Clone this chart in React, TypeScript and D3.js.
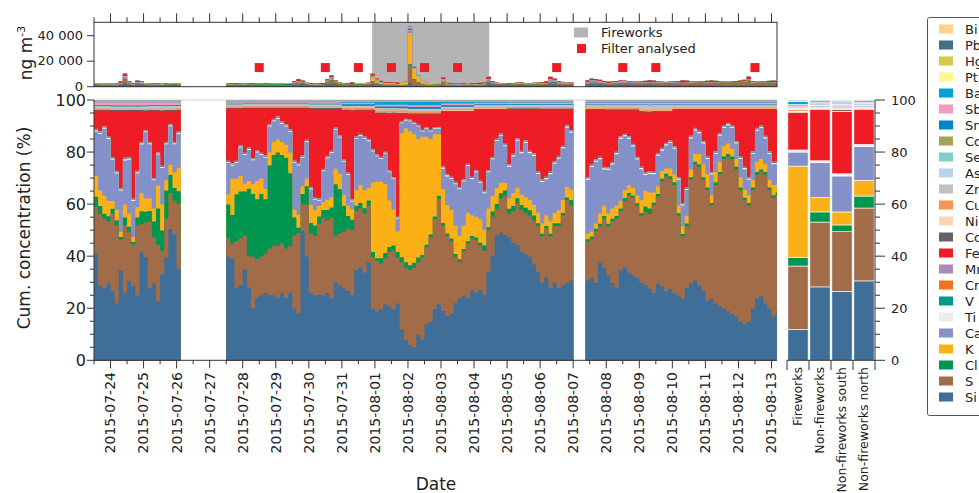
import React from 'react';
import * as d3 from 'd3';

// stacking order, bottom to top
const ELEMENTS = ['Si', 'S', 'Cl', 'K', 'Ca', 'Ti', 'V', 'Cr', 'Mn', 'Fe', 'Co', 'Ni', 'Cu', 'Zn', 'As', 'Se', 'Cd', 'Sn', 'Sb', 'Ba', 'Pt', 'Hg', 'Pb', 'Bi'];
const COLORS: Record<string, string> = {
  Si: '#3f6f98', S: '#a26c48', Cl: '#009650', K: '#fbb016', Ca: '#8491c8', Ti: '#ececec',
  V: '#00998e', Cr: '#f37221', Mn: '#b086b9', Fe: '#ee1c25', Co: '#646468', Ni: '#fdd6b5',
  Cu: '#f59558', Zn: '#c1c1c3', As: '#b9d4ef', Se: '#80cfc7', Cd: '#a7a25a', Sn: '#0085ce',
  Sb: '#f49ac1', Ba: '#00a2d3', Pt: '#fef691', Hg: '#d5c94a', Pb: '#476f83', Bi: '#fdd28a',
};

// 3-hourly samples, three measuring periods
const segStarts = [new Date(2015, 6, 23, 12), new Date(2015, 6, 27, 12), new Date(2015, 7, 7, 9)];
const segLengths = [21, 84, 47];

// major elements, % of total
const siPct = [
  41, 29, 28, 30, 27, 22, 35, 26, 31, 29, 25, 42, 39, 28, 30, 23, 33, 40, 51, 49, 35,
  40, 39, 28, 29, 35, 28, 20, 24, 25, 26, 25, 25, 24, 26, 24, 26, 20, 18, 50, 40,
  26, 25, 25, 25, 26, 24, 30, 29, 28, 27, 25, 35, 36, 34, 38, 20, 19, 20, 22, 21,
  20, 22, 12, 8, 6, 5, 10, 8, 14, 15, 20, 22, 19, 17, 18, 22, 24, 25, 24, 27,
  26, 27, 25, 34, 40, 48, 49, 48, 47, 45, 44, 42, 41, 40, 37, 34, 30, 32, 28, 30, 28, 29, 30, 31,
  31, 32, 30, 38, 36, 33, 30, 28, 35, 36, 34, 33, 32, 30, 29, 27, 26, 30, 29, 27,
  28, 26, 25, 24, 28, 30, 31, 29, 27, 23, 24, 22, 21, 20, 19, 18, 17, 15, 14, 15,
  20, 24, 25, 22, 20, 17, 18,
];
const sPct = [
  18, 28, 27, 24, 30, 30, 12, 26, 19, 16, 27, 11, 13, 26, 18, 22, 9, 15, 14, 13, 25,
  7, 6, 18, 18, 13, 12, 20, 15, 15, 15, 18, 19, 20, 19, 19, 18, 28, 31, 10, 20,
  23, 23, 27, 30, 28, 31, 18, 20, 22, 24, 25, 23, 23, 23, 22, 20, 20, 18, 18, 21,
  23, 18, 26, 28, 29, 31, 28, 32, 30, 33, 35, 41, 33, 31, 28, 18, 14, 17, 21, 20,
  20, 17, 17, 16, 15, 10, 13, 15, 9, 12, 16, 16, 16, 16, 17, 18, 18, 19, 20, 22, 24, 27, 32, 29,
  15, 15, 20, 14, 19, 19, 24, 27, 23, 26, 30, 30, 28, 26, 28, 28, 34, 34, 41, 45,
  43, 42, 31, 24, 24, 40, 45, 46, 43, 43, 36, 46, 51, 58, 60, 60, 57, 51, 48, 45,
  46, 48, 48, 50, 46, 46, 46,
];
const clPct = [
  4, 3, 2, 2, 2, 2, 1, 3, 2, 1, 3, 5, 4, 4, 6, 14, 8, 11, 7, 5, 5,
  13, 11, 18, 18, 17, 26, 24, 23, 24, 21, 32, 35, 36, 34, 35, 28, 7, 2, 4, 7,
  4, 4, 3, 3, 4, 4, 20, 17, 10, 5, 4, 2, 2, 2, 2, 2, 1, 2, 2, 2,
  2, 2, 2, 2, 2, 2, 2, 1, 1, 1, 1, 1, 1, 1, 1, 1, 1, 1, 1, 1,
  1, 1, 2, 1, 2, 2, 2, 2, 2, 2, 2, 2, 2, 2, 2, 1, 1, 1, 1, 1, 1, 1, 1, 2,
  1, 1, 1, 1, 1, 1, 1, 1, 1, 1, 1, 1, 1, 1, 2, 2, 1, 1, 1, 1,
  1, 1, 1, 1, 1, 1, 1, 1, 1, 1, 1, 1, 1, 1, 1, 1, 1, 1, 1, 1,
  1, 1, 1, 1, 1, 1, 1,
];
const kPct = [
  8, 6, 7, 6, 3, 4, 2, 5, 5, 2, 4, 7, 5, 5, 5, 9, 10, 4, 4, 6, 9,
  4, 14, 6, 6, 3, 3, 4, 7, 6, 4, 5, 5, 5, 5, 5, 8, 3, 5, 3, 3,
  7, 6, 4, 3, 4, 4, 6, 6, 4, 4, 4, 6, 7, 7, 5, 27, 30, 30, 27, 18,
  14, 8, 48, 52, 52, 50, 46, 46, 42, 37, 32, 24, 13, 11, 11, 11, 9, 9, 11, 8,
  8, 9, 6, 7, 6, 6, 4, 3, 4, 5, 4, 4, 4, 4, 4, 4, 4, 4, 5, 4, 5, 5, 4, 4,
  2, 2, 2, 4, 4, 4, 4, 4, 3, 3, 3, 3, 3, 5, 6, 6, 4, 3, 3, 2,
  3, 3, 3, 3, 3, 3, 3, 4, 5, 5, 3, 4, 4, 4, 4, 3, 3, 4, 3, 3,
  3, 4, 4, 3, 3, 4, 3,
];
const caPct = [
  17, 22, 26, 24, 16, 14, 16, 17, 21, 14, 13, 19, 25, 21, 11, 12, 14, 14, 15, 11, 13,
  12, 5, 6, 11, 11, 12, 9, 11, 9, 12, 10, 8, 8, 7, 7, 8, 18, 19, 11, 14,
  6, 4, 2, 12, 16, 17, 15, 14, 13, 12, 3, 20, 19, 20, 18, 12, 10, 9, 12, 11,
  12, 5, 4, 3, 4, 4, 5, 2, 3, 3, 2, 2, 8, 11, 12, 16, 18, 17, 18, 14,
  17, 14, 14, 14, 14, 18, 18, 14, 12, 14, 18, 16, 21, 18, 19, 15, 16, 14, 18, 19, 20, 20, 23, 22,
  21, 25, 24, 21, 14, 17, 17, 20, 24, 21, 18, 16, 14, 12, 6, 7, 7, 12, 8, 9,
  10, 10, 10, 8, 10, 12, 9, 8, 8, 6, 8, 7, 10, 7, 7, 8, 6, 7, 8, 6,
  10, 12, 12, 10, 10, 8, 8,
];
const fePct = [
  7, 8, 6, 10, 18, 23, 30, 18, 18, 34, 23, 12, 7, 12, 26, 16, 21, 12, 5, 12, 8,
  20, 21, 20, 14, 17, 15, 19, 16, 17, 18, 6, 4, 3, 5, 6, 8, 20, 21, 18, 12,
  30, 34, 34, 23, 18, 16, 7, 10, 19, 24, 34, 10, 9, 10, 11, 15, 16, 17, 15, 22,
  25, 40, 3, 2, 2, 3, 4, 6, 5, 6, 5, 5, 21, 24, 25, 27, 29, 26, 20, 25,
  23, 27, 31, 23, 18, 11, 9, 13, 21, 17, 11, 16, 12, 16, 17, 24, 27, 26, 24, 20, 18, 14, 6, 8,
  26, 21, 19, 18, 22, 22, 20, 16, 10, 9, 10, 13, 18, 21, 23, 22, 23, 16, 14, 12,
  11, 14, 26, 36, 30, 10, 7, 8, 12, 18, 24, 16, 9, 6, 5, 6, 12, 18, 22, 26,
  16, 7, 6, 10, 16, 20, 20,
];

// total of all elements, ng m-3
const totalNg = [
  3000, 2800, 2600, 2700, 2500, 2600, 4200, 10500, 4500, 3000, 4800, 4200, 3000, 2800, 2700, 2600, 2500, 2600, 2700, 2800, 2600,
  2600, 2800, 2700, 2500, 2400, 2600, 2800, 3000, 2900, 2700, 2600, 2500, 2400, 2500, 2700, 3000, 4500, 6000, 4800, 3200,
  2800, 2600, 2700, 3000, 6000, 9000, 5000, 3500, 3000, 2900, 3500, 3000, 2800, 2900, 3200, 10500, 6800, 4700, 3700, 3600,
  3500, 3400, 3600, 4000, 48000, 16000, 9000, 5500, 3500, 3000, 3000, 2800, 7500, 3200, 2900, 2700, 2600, 2800, 3000, 2900,
  3000, 3200, 3500, 8000, 4500, 3200, 3000, 2900, 2800, 3000, 3200, 3400, 3000, 2900, 3100, 3300, 3600, 4200, 7800, 6500, 4500, 3800, 3500, 3300,
  5000, 6500, 6000, 5500, 4500, 4000, 4200, 4500, 5000, 4800, 4400, 4200, 4000, 4300, 4600, 5200, 4800, 4200, 4000, 3800,
  4000, 4200, 4500, 5000, 4800, 4200, 4000, 4300, 4500, 4700, 5000, 4600, 4300, 4100, 4000, 4200, 4400, 4800, 5500, 8000,
  4500, 4300, 4200, 4400, 4600, 4800, 4500,
];

// trace elements, daily values (% of total), 2015-07-23 .. 2015-08-13
const DAY0 = new Date(2015, 6, 23);
const tiDaily = [0.5, 0.5, 0.4, 0.5, 0.4, 0.4, 0.4, 0.4, 0.4, 0.3, 0.3, 0.4, 0.4, 0.5, 0.5, 0.5, 0.5, 0.5, 0.5, 0.5, 0.5, 0.5];
const vDaily = [0.2, 0.2, 0.2, 0.2, 0.2, 0.2, 0.2, 0.2, 0.2, 0.15, 0.15, 0.2, 0.2, 0.2, 0.2, 0.2, 0.2, 0.2, 0.2, 0.2, 0.2, 0.2];
const crDaily = [0.1, 0.1, 0.1, 0.1, 0.1, 0.1, 0.1, 0.1, 0.1, 0.15, 0.15, 0.1, 0.1, 0.1, 0.1, 0.1, 0.1, 0.1, 0.1, 0.1, 0.1, 0.1];
const mnDaily = [0.3, 0.3, 0.3, 0.3, 0.3, 0.3, 0.3, 0.3, 0.3, 0.2, 0.2, 0.3, 0.3, 0.3, 0.3, 0.3, 0.3, 0.3, 0.3, 0.3, 0.3, 0.3];
const coDaily = [0.3, 0.3, 0.3, 0.3, 0.3, 0.3, 0.3, 0.4, 0.3, 0.3, 0.3, 0.3, 0.3, 0.3, 0.3, 0.4, 0.4, 0.4, 0.3, 0.3, 0.3, 0.3];
const niDaily = [0.1, 0.1, 0.1, 0.1, 0.1, 0.1, 0.1, 0.1, 0.1, 0.1, 0.1, 0.1, 0.1, 0.1, 0.1, 0.1, 0.1, 0.1, 0.1, 0.1, 0.1, 0.1];
const cuDaily = [0.4, 0.4, 0.4, 0.4, 0.4, 0.4, 0.4, 0.4, 0.5, 0.7, 0.7, 0.5, 0.4, 0.4, 0.4, 0.4, 0.4, 0.4, 0.4, 0.4, 0.4, 0.4];
const znDaily = [0.7, 0.7, 0.8, 0.7, 0.6, 0.6, 0.6, 0.7, 0.7, 0.7, 0.8, 0.8, 0.7, 0.7, 0.7, 0.8, 0.9, 1.6, 0.8, 0.8, 0.8, 0.8];
const asDaily = [0.05, 0.05, 0.05, 0.05, 0.05, 0.05, 0.05, 0.05, 0.05, 0.05, 0.05, 0.05, 0.05, 0.05, 0.05, 0.05, 0.05, 0.05, 0.05, 0.05, 0.05, 0.05];
const seDaily = [0.05, 0.05, 0.05, 0.05, 0.05, 0.05, 0.05, 0.05, 0.05, 0.05, 0.05, 0.05, 0.05, 0.05, 0.05, 0.05, 0.05, 0.05, 0.05, 0.05, 0.05, 0.05];
const cdDaily = [0.05, 0.05, 0.05, 0.05, 0.05, 0.05, 0.05, 0.05, 0.05, 0.05, 0.05, 0.05, 0.05, 0.05, 0.05, 0.05, 0.05, 0.05, 0.05, 0.05, 0.05, 0.05];
const snDaily = [0.4, 0.4, 0.4, 0.4, 0.3, 0.3, 0.3, 0.3, 0.6, 0.7, 0.7, 0.6, 0.4, 0.3, 0.3, 0.3, 0.3, 0.3, 0.3, 0.3, 0.3, 0.3];
const sbDaily = [1.2, 1.3, 1.2, 1.1, 0.6, 0.5, 0.5, 0.6, 0.6, 0.7, 0.7, 0.7, 0.6, 0.6, 0.7, 0.8, 0.8, 0.8, 0.8, 0.8, 0.8, 0.8];
const baDaily = [0.3, 0.3, 0.3, 0.3, 0.3, 0.3, 0.3, 0.3, 0.5, 1.2, 1.4, 0.8, 0.5, 0.4, 0.4, 0.4, 0.4, 0.4, 0.4, 0.4, 0.4, 0.4];
const ptDaily = [0.05, 0.05, 0.05, 0.05, 0.05, 0.05, 0.05, 0.05, 0.05, 0.05, 0.05, 0.05, 0.05, 0.05, 0.05, 0.05, 0.05, 0.05, 0.05, 0.05, 0.05, 0.05];
const hgDaily = [0.05, 0.05, 0.05, 0.05, 0.05, 0.05, 0.05, 0.05, 0.05, 0.05, 0.05, 0.05, 0.05, 0.05, 0.05, 0.05, 0.05, 0.05, 0.05, 0.05, 0.05, 0.05];
const pbDaily = [0.4, 0.4, 0.4, 0.4, 0.4, 0.4, 0.4, 0.4, 0.4, 0.5, 0.5, 0.4, 0.4, 0.4, 0.4, 0.4, 0.4, 0.4, 0.4, 0.4, 0.4, 0.4];
const biDaily = [0.05, 0.05, 0.05, 0.05, 0.05, 0.05, 0.05, 0.05, 0.05, 0.05, 0.05, 0.05, 0.05, 0.05, 0.05, 0.05, 0.05, 0.05, 0.05, 0.05, 0.05, 0.05];

const fireworksPeriod = [new Date(2015, 6, 31, 22), new Date(2015, 7, 4, 11)];
const filterDates = [
  new Date(2015, 6, 28, 12), new Date(2015, 6, 30, 12), new Date(2015, 6, 31, 12), new Date(2015, 7, 1, 12),
  new Date(2015, 7, 2, 12), new Date(2015, 7, 3, 12), new Date(2015, 7, 6, 12), new Date(2015, 7, 8, 12),
  new Date(2015, 7, 9, 12), new Date(2015, 7, 12, 12),
];
const filterLevel = 15000;

// mean composition (%), element order as ELEMENTS
const barCategories = ['Fireworks', 'Non-fireworks', 'Non-fireworks south', 'Non-fireworks north'];
const fireworksShare = [11.9, 24.3, 3.4, 35.0, 5.4, 0.3, 0.2, 0.1, 0.2, 14.5, 0.3, 0.1, 0.6, 0.6, 0.05, 0.05, 0.05, 0.3, 0.9, 1.3, 0.05, 0.05, 0.4, 0.1];
const nonFireworksShare = [28.2, 24.9, 3.9, 5.5, 13.4, 0.3, 0.15, 0.1, 0.2, 19.7, 0.3, 0.1, 0.4, 0.8, 0.05, 0.05, 0.05, 0.4, 0.7, 0.5, 0.05, 0.05, 0.5, 0.05];
const southShare = [26.5, 22.9, 2.6, 5.0, 13.8, 0.4, 0.15, 0.1, 0.2, 24.0, 0.8, 0.1, 0.4, 0.8, 0.05, 0.05, 0.05, 0.4, 0.6, 0.4, 0.05, 0.05, 0.5, 0.05];
const northShare = [30.5, 28.0, 4.6, 6.0, 13.0, 0.4, 0.15, 0.1, 0.2, 13.5, 0.3, 0.1, 0.4, 0.8, 0.05, 0.05, 0.05, 0.4, 0.6, 0.5, 0.05, 0.05, 0.5, 0.05];

const STEP = 3 * 3600e3;
const FONT = 'DejaVu Sans';

const major: Record<string, number[]> = { Si: siPct, S: sPct, Cl: clPct, K: kPct, Ca: caPct, Fe: fePct };
const daily: Record<string, number[]> = {
  Ti: tiDaily, V: vDaily, Cr: crDaily, Mn: mnDaily, Co: coDaily, Ni: niDaily, Cu: cuDaily, Zn: znDaily,
  As: asDaily, Se: seDaily, Cd: cdDaily, Sn: snDaily, Sb: sbDaily, Ba: baDaily, Pt: ptDaily, Hg: hgDaily,
  Pb: pbDaily, Bi: biDaily,
};

type Row = { t: Date; seg: number; [k: string]: any };

function buildRows() {
  const pct: Row[] = [];
  const abs: Row[] = [];
  let idx = 0;
  segStarts.forEach((start, seg) => {
    for (let k = 0; k < segLengths[seg]; k++, idx++) {
      const t = new Date(+start + k * STEP);
      const day = Math.floor((+t - +DAY0) / 864e5);
      const raw: Record<string, number> = {};
      ELEMENTS.forEach(e => {
        raw[e] = major[e] ? (major[e][idx] ?? 0) : (daily[e][day] ?? 0);
      });
      const sum = d3.sum(ELEMENTS, e => raw[e]);
      const p: Row = { t, seg };
      const a: Row = { t, seg };
      ELEMENTS.forEach(e => {
        p[e] = (raw[e] / sum) * 100;
        a[e] = (p[e] / 100) * (totalNg[idx] ?? 0);
      });
      pct.push(p);
      abs.push(a);
    }
  });
  return { pct, abs };
}

export default function App() {
  const { pct, abs } = buildRows();

  const x = d3.scaleTime()
    .domain([new Date(2015, 6, 23, 12), new Date(2015, 7, 13, 4)])
    .range([94, 777]);
  const y = d3.scaleLinear().domain([0, 100]).range([360.3, 100]);
  const yTop = d3.scaleLinear().domain([0, 50500]).range([86.7, 22.3]);
  const xBar = d3.scaleBand().domain(barCategories).range([787, 875]).paddingInner(0.08).paddingOuter(0.04);

  const stack = d3.stack<Row>().keys(ELEMENTS);
  const pctSeries = stack(pct);
  const absSeries = stack(abs);

  // painter's order: each element drawn from zero to its cumulative top, top element first
  const drawStack = (series: d3.Series<Row, string>[], ys: d3.ScaleLinear<number, number>) => {
    const area = d3.area<{ t: Date; v: number }>()
      .x(d => x(d.t))
      .y0(ys(0))
      .y1(d => ys(d.v))
      .curve(d3.curveStepAfter);
    const out: JSX.Element[] = [];
    [...series].reverse().forEach(s => {
      segStarts.forEach((_, seg) => {
        const pts = s.filter(d => d.data.seg === seg).map(d => ({ t: d.data.t, v: d[1] }));
        if (!pts.length) return;
        const last = pts[pts.length - 1];
        pts.push({ t: new Date(+last.t + STEP), v: last.v });
        out.push(<path key={s.key + seg} d={area(pts) || ''} fill={COLORS[s.key]} />);
      });
    });
    return out;
  };

  const halfDays = d3.timeHour.every(12)!.range(x.domain()[0], new Date(+x.domain()[1] + 1));
  const labelDays = d3.timeDay.range(new Date(2015, 6, 24), new Date(2015, 7, 14));
  const fmtDate = d3.timeFormat('%Y-%m-%d');
  const yMinor = d3.range(0, 101, 5);
  const fmtNg = (v: number) => d3.format(',')(v).replace(/,/g, ' ');

  const barRows = [fireworksShare, nonFireworksShare, southShare, northShare];
  const legendOrder = [...ELEMENTS].reverse();

  return (
    <svg width={979} height={493} style={{ position: 'absolute', left: 0, top: 0 }} fontFamily={FONT}>
      <defs>
        <clipPath id="mainClip"><rect x={94} y={95} width={683} height={270} /></clipPath>
        <clipPath id="topClip"><rect x={94} y={20} width={683} height={67} /></clipPath>
      </defs>

      {/* top panel: absolute concentrations */}
      <rect x={x(fireworksPeriod[0])} y={22.3} width={x(fireworksPeriod[1]) - x(fireworksPeriod[0])} height={64.4} fill="#b4b4b4" />
      <g clipPath="url(#topClip)">{drawStack(absSeries, yTop)}</g>
      {filterDates.map((d, i) => (
        <rect key={i} x={x(d) - 4.5} y={yTop(filterLevel) - 4.5} width={9} height={9} fill="#ee1c25" />
      ))}
      <rect x={94} y={22.3} width={683} height={64.4} fill="none" stroke="#333" strokeWidth={1} />
      {halfDays.map((d, i) => (
        <line key={i} x1={x(d)} x2={x(d)} y1={22.3} y2={22.3 - (d.getHours() === 0 ? 9 : 5)} stroke="#333" />
      ))}
      {[0, 20000, 40000].map(v => (
        <g key={v}>
          <line x1={87} x2={94} y1={yTop(v)} y2={yTop(v)} stroke="#333" />
          <text x={83} y={yTop(v)} dy="0.32em" textAnchor="end" fontSize={13} fill="#222">{fmtNg(v)}</text>
        </g>
      ))}
      <text transform="translate(32,53) rotate(-90)" textAnchor="middle" fontSize={17} fill="#222">
        ng m<tspan dy={-7} fontSize={11}>-3</tspan>
      </text>
      <rect x={574} y={27.5} width={14} height={10} fill="#b4b4b4" />
      <text x={601} y={37} fontSize={13} fill="#222">Fireworks</text>
      <rect x={577} y={44} width={9} height={9} fill="#ee1c25" />
      <text x={601} y={53} fontSize={13} fill="#222">Filter analysed</text>

      {/* main panel: cumulative percentage */}
      <g clipPath="url(#mainClip)">{drawStack(pctSeries, y)}</g>
      <line x1={94} x2={777} y1={100} y2={100} stroke="#cfcfcf" />
      <line x1={94} x2={94} y1={100} y2={360.3} stroke="#333" />
      <line x1={94} x2={777} y1={360.3} y2={360.3} stroke="#333" />
      {yMinor.map(v => (
        <line key={v} x1={94 - (v % 20 === 0 ? 7 : 4)} x2={94} y1={y(v)} y2={y(v)} stroke="#333" />
      ))}
      {d3.range(0, 101, 20).map(v => (
        <text key={v} x={86} y={y(v)} dy="0.36em" textAnchor="end" fontSize={16} fill="#222">{v}</text>
      ))}
      <text transform="translate(30,228) rotate(-90)" textAnchor="middle" fontSize={17} fill="#222">Cum. concentration (%)</text>
      {halfDays.map((d, i) => (
        <line key={i} x1={x(d)} x2={x(d)} y1={360.3} y2={360.3 + (d.getHours() === 0 ? 8 : 4)} stroke="#333" />
      ))}
      {labelDays.map((d, i) => (
        <text key={i} transform={`translate(${x(d)},372) rotate(-90)`} dy="0.35em" textAnchor="end" fontSize={14} fill="#222">{fmtDate(d)}</text>
      ))}
      <text x={436} y={490} textAnchor="middle" fontSize={17} fill="#222">Date</text>

      {/* mean composition bars */}
      {barRows.map((vals, ci) => {
        let acc = 0;
        const bx = xBar(barCategories[ci])!;
        return (
          <g key={ci}>
            {vals.map((v, ei) => {
              const y0 = acc;
              acc += v;
              return (
                <rect key={ei} x={bx} width={xBar.bandwidth()} y={y(Math.min(acc, 100))} height={y(y0) - y(Math.min(acc, 100))}
                  fill={COLORS[ELEMENTS[ei]]} stroke="#fff" strokeWidth={0.6} />
              );
            })}
          </g>
        );
      })}
      <line x1={875} x2={875} y1={100} y2={360.3} stroke="#333" />
      <line x1={787} x2={875} y1={360.3} y2={360.3} stroke="#333" />
      {yMinor.map(v => (
        <line key={v} x1={875} x2={875 + (v % 20 === 0 ? 10 : 5)} y1={y(v)} y2={y(v)} stroke="#333" />
      ))}
      {d3.range(0, 101, 20).map(v => (
        <text key={v} x={891} y={y(v)} dy="0.35em" fontSize={13} fill="#222">{v}</text>
      ))}
      {d3.range(5).map(i => (
        <line key={i} x1={787 + i * xBar.step()} x2={787 + i * xBar.step()} y1={360.3} y2={370} stroke="#333" />
      ))}
      {barCategories.map(c => (
        <text key={c} transform={`translate(${xBar(c)! + xBar.bandwidth() / 2},367) rotate(-90)`} dy="0.35em" textAnchor="end" fontSize={12.5} fill="#222">{c}</text>
      ))}

      {/* legend */}
      <rect x={927.5} y={17.5} width={80} height={398} fill="#fff" stroke="#555" rx={2} />
      {legendOrder.map((e, i) => (
        <g key={e}>
          <rect x={939} y={29 + i * 16 - 4.5} width={14} height={9} fill={COLORS[e]} />
          <text x={965} y={29 + i * 16 + 4.7} fontSize={13} fill="#222">{e}</text>
        </g>
      ))}
    </svg>
  );
}
